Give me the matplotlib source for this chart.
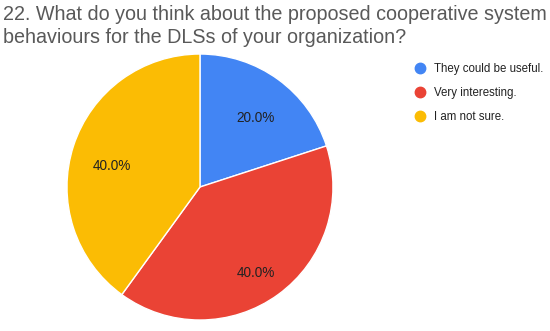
import matplotlib
matplotlib.use("Agg")
import matplotlib.pyplot as plt
from matplotlib.lines import Line2D
import numpy as np

labels = ["They could be useful.", "Very interesting.", "I am not sure."]
values = [20.0, 40.0, 40.0]
colors = ["#4285F4", "#EA4335", "#FBBC04"]
title = "22. What do you think about the proposed cooperative system\nbehaviours for the DLSs of your organization?"
label_radius = [0.67, 0.77, 0.68]
label_angle_shift = [-3.0, -3.0, 4.5]

plt.rcParams['font.family'] = ['Liberation Sans', 'DejaVu Sans']

fig = plt.figure(figsize=(5.5, 3.31), dpi=100)
fig.patch.set_facecolor('white')

fig.text(0.006, 0.985, title, ha='left', va='top', fontsize=14.2, color='#595959', linespacing=1.25)

ax = fig.add_axes([0.1218, 0.0332, 0.4836, 0.8036])
wedges, texts, autotexts = ax.pie(values, colors=colors, startangle=90, counterclock=False,
                                  autopct='%1.1f%%', pctdistance=0.75,
                                  wedgeprops=dict(edgecolor='white', linewidth=1),
                                  textprops=dict(fontsize=9.8, color='#222222'))
for w, t, r, s in zip(wedges, autotexts, label_radius, label_angle_shift):
    ang = np.deg2rad((w.theta1 + w.theta2) / 2 + s)
    t.set_position((r * np.cos(ang), r * np.sin(ang)))
ax.set_aspect('equal')
ax.set_xlim(-1, 1)
ax.set_ylim(-1, 1)

handles = [Line2D([0], [0], marker='o', linestyle='', markersize=7.5, markerfacecolor=c,
                  markeredgecolor=c) for c in colors]
fig.legend(handles, labels, loc='upper left', bbox_to_anchor=(0.733, 0.84), frameon=False,
           fontsize=8.3, handletextpad=0.6, labelspacing=1.03, handlelength=1.2, labelcolor='#222222')

fig.savefig("out.png", dpi=100)
